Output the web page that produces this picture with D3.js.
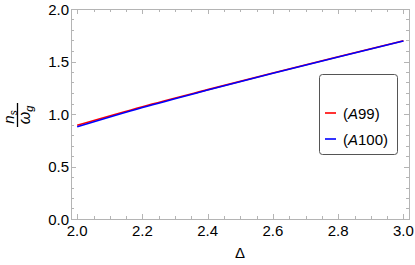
<script src="https://d3js.org/d3.v7.min.js"></script>
<style>
  body { margin: 0; background: #fff; }
  text { font-family: "Liberation Sans", Arial, sans-serif; }
</style>
<svg id="vis"></svg>
<script>
  // data
  var deltaVals = [2.0, 2.2, 2.4, 2.6, 2.8, 3.0];
  var a99 = [0.893, 1.07, 1.232, 1.39, 1.545, 1.697];
  var a100 = [0.878, 1.062, 1.228, 1.388, 1.543, 1.695];
  var seriesNames = ['A99', 'A100'];
  var seriesColors = ['#ff0000', '#0000ff'];
  var xTicks = [2.0, 2.2, 2.4, 2.6, 2.8, 3.0];
  var yTicks = [0.0, 0.5, 1.0, 1.5, 2.0];

  var W = 415, H = 265;
  var pLeft = 71, pRight = 409, pTop = 9, pBottom = 219;

  var svg = d3.select('#vis').attr('width', W).attr('height', H);

  var x = d3.scaleLinear().domain([1.981, 3.017]).range([pLeft, pRight]);
  var y = d3.scaleLinear().domain([0, 2]).range([pBottom, pTop]);

  var frameCol = '#b4b4b4';

  // minor / major ticks on all four sides
  var xMinor = d3.range(2.0, 3.001, 0.05);
  var yMinor = d3.range(0, 2.001, 0.1);
  var tickG = svg.append('g').attr('stroke', frameCol).attr('stroke-width', 1);

  xMinor.forEach(function(v) {
    var major = xTicks.some(function(t) { return Math.abs(t - v) < 1e-6; });
    var len = major ? 5 : 3;
    var px = Math.round(x(v)) + 0.5;
    tickG.append('line').attr('x1', px).attr('x2', px).attr('y1', pBottom).attr('y2', pBottom - len);
    tickG.append('line').attr('x1', px).attr('x2', px).attr('y1', pTop).attr('y2', pTop + len);
  });
  yMinor.forEach(function(v) {
    var major = yTicks.some(function(t) { return Math.abs(t - v) < 1e-6; });
    var len = major ? 5 : 3;
    var py = Math.round(y(v)) + 0.5;
    tickG.append('line').attr('y1', py).attr('y2', py).attr('x1', pLeft).attr('x2', pLeft + len);
    tickG.append('line').attr('y1', py).attr('y2', py).attr('x1', pRight).attr('x2', pRight - len);
  });

  svg.append('rect')
    .attr('x', pLeft + 0.5).attr('y', pTop + 0.5)
    .attr('width', pRight - pLeft).attr('height', pBottom - pTop)
    .attr('fill', 'none').attr('stroke', frameCol);

  // tick labels
  svg.selectAll('.xl').data(xTicks).enter().append('text')
    .attr('x', function(d) { return x(d); })
    .attr('y', pBottom + 17)
    .attr('text-anchor', 'middle')
    .attr('font-size', 15)
    .text(function(d) { return d.toFixed(1); });

  svg.selectAll('.yl').data(yTicks).enter().append('text')
    .attr('x', pLeft - 2)
    .attr('y', function(d) { return y(d) + 5.5; })
    .attr('text-anchor', 'end')
    .attr('font-size', 15)
    .text(function(d) { return d.toFixed(1); });

  // axis labels
  svg.append('text')
    .attr('x', (pLeft + pRight) / 2)
    .attr('y', 258)
    .attr('text-anchor', 'middle')
    .attr('font-size', 15)
    .text('Δ');

  var yl = svg.append('g').attr('transform', 'translate(17,115) rotate(-90)');
  var num = yl.append('text').attr('x', -2).attr('y', -3).attr('text-anchor', 'middle').attr('font-size', 15);
  num.append('tspan').attr('font-style', 'italic').text('n');
  num.append('tspan').attr('font-size', 10).attr('dy', 3).attr('font-style', 'italic').text('s');
  yl.append('line').attr('x1', -12).attr('x2', 12).attr('y1', 0.5).attr('y2', 0.5).attr('stroke', '#000').attr('stroke-width', 1.3);
  var den = yl.append('text').attr('x', 0).attr('y', 13).attr('text-anchor', 'middle').attr('font-size', 16);
  den.append('tspan').attr('font-style', 'italic').text('ω');
  den.append('tspan').attr('font-size', 11).attr('dy', 3).attr('font-style', 'italic').text('g');

  // lines
  var line = d3.line()
    .x(function(d, i) { return x(deltaVals[i]); })
    .y(function(d) { return y(d); })
    .curve(d3.curveMonotoneX);

  [a99, a100].forEach(function(s, i) {
    svg.append('path')
      .attr('d', line(s))
      .attr('fill', 'none')
      .attr('stroke', seriesColors[i])
      .attr('stroke-width', 1.6);
  });

  // legend
  var lg = svg.append('g');
  lg.append('rect')
    .attr('x', 319.5).attr('y', 74.5).attr('width', 78).attr('height', 80)
    .attr('rx', 3).attr('fill', '#fff').attr('stroke', '#555').attr('stroke-width', 1);
  seriesNames.forEach(function(n, i) {
    var yy = 113 + i * 26;
    lg.append('line').attr('x1', 325).attr('x2', 336).attr('y1', yy).attr('y2', yy)
      .attr('stroke', seriesColors[i]).attr('stroke-width', 1.6);
    var t = lg.append('text').attr('x', 343).attr('y', yy + 5.5).attr('font-size', 15);
    t.append('tspan').text('(');
    t.append('tspan').attr('font-style', 'italic').text(n[0]);
    t.append('tspan').text(n.slice(1) + ')');
  });
</script>
